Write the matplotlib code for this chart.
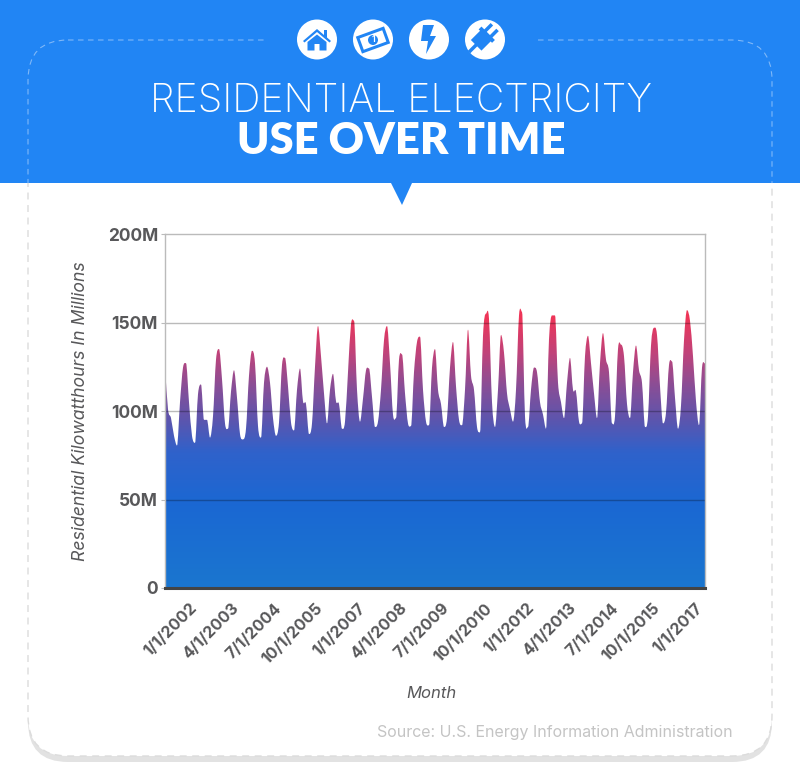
import numpy as np
import matplotlib
matplotlib.use("Agg")
import matplotlib.pyplot as plt
from matplotlib.colors import LinearSegmentedColormap
from matplotlib.patches import Circle, FancyBboxPatch, PathPatch, Polygon, Rectangle
from matplotlib.path import Path
from matplotlib.transforms import Affine2D

# monthly residential use, millions of kWh
y2002 = [125.5, 101, 96, 86, 80.5, 105, 124.5, 127, 105, 86, 82, 109.5]
y2003 = [115, 95, 95, 85, 97, 129, 135, 118, 93, 90, 111, 123]
y2004 = [107.5, 87, 84, 90, 120, 134, 127, 91.5, 85, 116, 125, 116]
y2005 = [96, 86, 93.5, 126, 130, 114, 93.5, 89, 112, 124, 105.5, 104]
y2006 = [87, 93, 125, 148, 131, 110, 93, 112, 121, 105.5, 104, 90]
y2007 = [94, 122, 149, 151, 112, 94, 107, 123, 124, 108, 91, 94]
y2008 = [112, 140, 148, 127, 98, 96, 129, 132, 110, 93, 91.5, 122]
y2009 = [139, 142, 112, 94, 92, 124.5, 135, 112, 104, 91, 96, 124.5]
y2010 = [139, 114, 95, 92, 112, 146, 120, 112, 91, 88, 142.5, 155]
y2011 = [152, 105, 91, 112, 143, 133, 110, 101, 94, 112, 154, 156]
y2012 = [97, 91, 112, 124.5, 122, 105, 98, 90, 140.5, 154, 154, 116]
y2013 = [105, 96, 116, 130, 112, 111, 94, 93, 131, 142.5, 127, 110]
y2014 = [96, 127, 144, 129, 122, 93, 97, 135, 137.5, 131, 104, 96]
y2015 = [122, 137, 123, 116, 91, 97, 137, 147, 143, 114, 93, 99]
y2016 = [126, 128, 107.5, 90, 103, 140, 157, 151, 131, 105.5, 92, 124.5]
y2017 = [127]
usage = np.array(y2002 + y2003 + y2004 + y2005 + y2006 + y2007 + y2008 + y2009
                 + y2010 + y2011 + y2012 + y2013 + y2014 + y2015 + y2016 + y2017)

tick_labels = ["1/1/2002", "4/1/2003", "7/1/2004", "10/1/2005", "1/1/2007", "4/1/2008", "7/1/2009",
               "10/1/2010", "1/1/2012", "4/1/2013", "7/1/2014", "10/1/2015", "1/1/2017"]
y_ticks = [0, 50, 100, 150, 200]
y_labels = ["0", "50M", "100M", "150M", "200M"]

BLUE = "#2185f4"
GREY = "#58585a"
plt.rcParams["font.family"] = ["Inter", "DejaVu Sans"]

fig = plt.figure(figsize=(8, 7.83), dpi=100)

# page furniture in pixel coordinates
bg = fig.add_axes([0, 0, 1, 1])
bg.set_xlim(0, 800)
bg.set_ylim(783, 0)
bg.axis("off")


def card(x0, y0, x1, y1, **kw):
    return FancyBboxPatch((x0 + 40, y0 + 40), x1 - x0 - 80, y1 - y0 - 80,
                          boxstyle="round,pad=40,rounding_size=40", **kw)


bg.add_patch(card(28, 600, 772, 762, fc="#e2e2e2", ec="none"))
bg.add_patch(card(28, 300, 772, 756, fc="white", ec="none"))
bg.add_patch(Rectangle((0, 0), 800, 183, fc=BLUE, ec="none"))
bg.add_patch(Polygon([(391, 183), (412, 183), (402, 205)], fc=BLUE, ec="none"))

# dashed outline, light on the banner and grey below it
dash = (0, (5, 4))
clip_top = Rectangle((0, 0), 800, 183, transform=bg.transData)
clip_low = Rectangle((0, 183), 800, 600, transform=bg.transData)
top_line = card(28, 40, 772, 756, fc="none", ec="#7fb8f8", lw=0.8, ls=dash)
low_line = card(28, 40, 772, 756, fc="none", ec="#dcdcdc", lw=1, ls=dash)
bg.add_patch(top_line)
bg.add_patch(low_line)
top_line.set_clip_path(clip_top)
low_line.set_clip_path(clip_low)
bg.add_patch(Rectangle((264, 36), 271, 8, fc=BLUE, ec="none"))

# icons
for cx in [317, 373, 429, 485]:
    bg.add_patch(Circle((cx, 39.5), 20, fc="white", ec="none"))
bg.add_patch(Polygon([(303, 41), (317, 29), (324, 35), (324, 30), (327, 30), (327, 37.5), (331, 41),
                      (329.5, 42.5), (317, 32), (304.5, 42.5)], fc=BLUE, ec="none"))
bg.add_patch(Polygon([(307.5, 42), (317, 34.5), (326.5, 42), (326.5, 50.5), (319.5, 50.5), (319.5, 44),
                      (314.5, 44), (314.5, 50.5), (307.5, 50.5)], fc=BLUE, ec="none"))
rot = Affine2D().rotate_deg_around(373, 40, -20) + bg.transData
bg.add_patch(Rectangle((358, 31), 30, 18, fc=BLUE, ec="none", transform=rot))
bg.add_patch(Rectangle((361, 34), 24, 12, fc="white", ec="none", transform=rot))
bg.add_patch(Circle((373, 40), 5, fc=BLUE, ec="none"))
bg.text(373, 40, "1", color="white", fontsize=6, fontweight="bold", ha="center", va="center")
bg.add_patch(Polygon([(423, 25), (434, 25), (430, 36), (436, 36), (426, 54), (428, 41), (421, 41)],
                     fc=BLUE, ec="none"))
plug = Affine2D().rotate_deg_around(485, 40, 45) + bg.transData
bg.add_patch(Rectangle((475, 36), 15, 14, fc=BLUE, ec="none", transform=plug))
bg.add_patch(Rectangle((473, 33), 19, 4, fc=BLUE, ec="none", transform=plug))
bg.add_patch(Rectangle((477, 24), 3.5, 10, fc=BLUE, ec="none", transform=plug))
bg.add_patch(Rectangle((485, 24), 3.5, 10, fc=BLUE, ec="none", transform=plug))
bg.add_patch(Rectangle((480.5, 49), 3.5, 11, fc=BLUE, ec="none", transform=plug))

bg.text(401, 101, "RESIDENTIAL ELECTRICITY", color="white", fontsize=28.3, fontweight="light",
        ha="center", va="center")
bg.text(401, 141, "USE OVER TIME", color="white", fontsize=31.3, fontweight="heavy", family="Lato",
        ha="center", va="center")
bg.text(733, 732, "Source: U.S. Energy Information Administration", color="#c4c4c4", fontsize=11.5,
        ha="right", va="center")
bg.text(431, 694, "Month", color=GREY, fontsize=12, style="italic", ha="center", va="center")
bg.text(81, 411, "Residential Kilowatthours In Millions", color=GREY, fontsize=12.7, style="italic",
        rotation=90, ha="center", va="center")

# chart area
ax = fig.add_axes([165 / 800, 1 - 588 / 783, 540 / 800, 354 / 783], facecolor="none")
months = np.arange(len(usage))
ax.set_yticks(y_ticks)
ax.set_yticklabels(y_labels, fontsize=12.5, fontweight="bold", color=GREY)
ax.set_xticks(np.linspace(8, 176.6, len(tick_labels)))
ax.set_xticklabels(tick_labels, fontsize=11.5, fontweight="bold", color=GREY, rotation=45,
                   ha="right", rotation_mode="anchor")
ax.tick_params(axis="x", length=0, pad=9)
ax.tick_params(axis="y", length=3, color="#bbbbbb", pad=2)
for side in ["left", "right", "top"]:
    ax.spines[side].set_color("#bbbbbb")
    ax.spines[side].set_linewidth(1)
ax.spines["bottom"].set_color("#444444")
ax.spines["bottom"].set_linewidth(2.2)

cmap = LinearSegmentedColormap.from_list("use", [
    (0.0, "#1b76cf"), (0.3, "#1a68d3"), (0.5, "#2f62cb"), (0.62, "#5c55ae"),
    (0.75, "#8a4e96"), (0.87, "#c0437a"), (1.0, "#ee3558")])
# gradient runs over the whole axes and stays red above 153
gradient = np.clip(np.linspace(200, 0, 400) / 153, 0, 1).reshape(-1, 1)
ax.imshow(gradient, cmap=cmap, extent=(0, 180, 0, 200), aspect="auto", vmin=0, vmax=1, zorder=1)

# white mask above the curve, bezier through the monthly values so the peaks come out round
# slopes are flat at highs and lows so the curve never goes past a value
steps = np.diff(usage)
slopes = np.gradient(usage)
slopes[1:-1][steps[:-1] * steps[1:] <= 0] = 0
verts = [(months[0], 200), (months[0], usage[0])]
codes = [Path.MOVETO, Path.LINETO]
for i in months[:-1]:
    verts += [(i + 1 / 3, usage[i] + slopes[i] / 3),
              (i + 2 / 3, usage[i + 1] - slopes[i + 1] / 3),
              (i + 1, usage[i + 1])]
    codes += [Path.CURVE4] * 3
verts += [(months[-1], 200), (months[0], 200)]
codes += [Path.LINETO, Path.CLOSEPOLY]
ax.add_patch(PathPatch(Path(verts, codes), fc="white", ec="none", zorder=1.5))
ax.set_xlim(0, 180)
ax.set_ylim(0, 200)
for level in [50, 100, 150]:
    ax.axhline(level, color="#000000", alpha=0.27, lw=1, zorder=2)

fig.savefig("out.png", dpi=100)
